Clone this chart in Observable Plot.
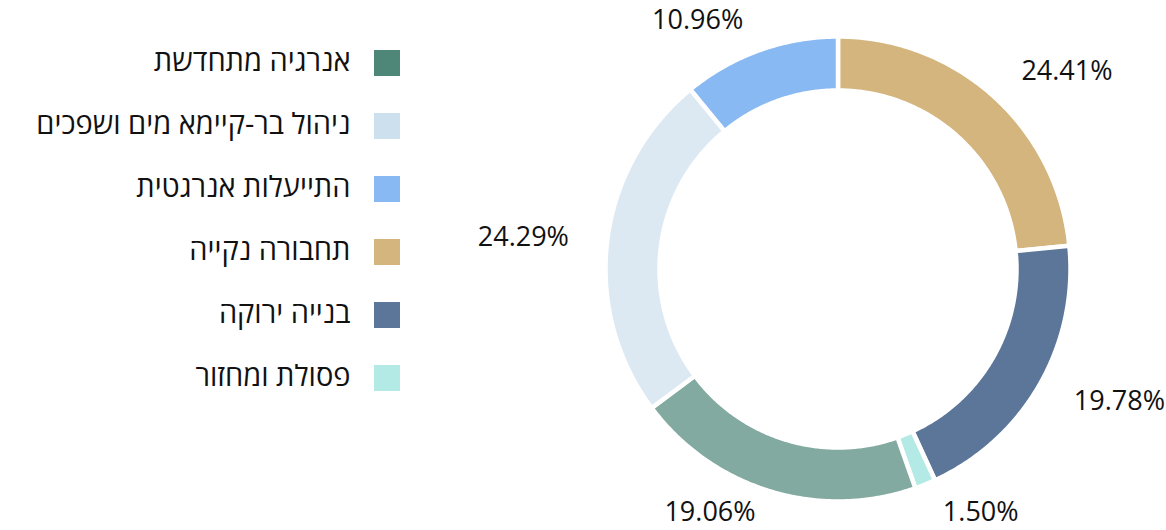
<!DOCTYPE html>
<html>
<head>
<meta charset="utf-8">
<script src="https://cdn.jsdelivr.net/npm/d3@7"></script>
<script src="https://cdn.jsdelivr.net/npm/@observablehq/plot@0.6"></script>
<style>
  html, body { margin: 0; padding: 0; background: #fff; }
  #chart svg { display: block; }
</style>
</head>
<body>
<div id="chart"></div>
<script>
// Data (clockwise from 12 o'clock)
const sliceNames = ["תחבורה נקייה", "בנייה ירוקה", "פסולת ומחזור", "אנרגיה מתחדשת", "ניהול בר-קיימא מים ושפכים", "התייעלות אנרגטית"];
// slice sizes as drawn in the picture (share of the ring)
const sliceValues = [23.4, 19.75, 1.45, 20.2, 24.25, 10.95];
// printed percentages
const sliceLabels = ["24.41%", "19.78%", "1.50%", "19.06%", "24.29%", "10.96%"];

// Legend order
const legendNames = ["אנרגיה מתחדשת", "ניהול בר-קיימא מים ושפכים", "התייעלות אנרגטית", "תחבורה נקייה", "בנייה ירוקה", "פסולת ומחזור"];

// Styles
const colorMap = {
  "אנרגיה מתחדשת": "#4e8678",
  "ניהול בר-קיימא מים ושפכים": "#cde0ee",
  "התייעלות אנרגטית": "#89b9f2",
  "תחבורה נקייה": "#d4b57d",
  "בנייה ירוקה": "#5c7699",
  "פסולת ומחזור": "#b3eae5"
};
const fadedSlices = new Set(["אנרגיה מתחדשת", "ניהול בר-קיימא מים ושפכים"]);

const W = 1166, H = 530;
const cx = 837.5, cy = 268.5, rOuter = 232.5, rInner = 178.5, rLabel = 266;
const font = "'Open Sans', 'DejaVu Sans', sans-serif";

const total = d3.sum(sliceValues);
let acc = 0;
const slices = sliceNames.map((name, i) => {
  const a0 = acc / total * 2 * Math.PI;
  acc += sliceValues[i];
  const a1 = acc / total * 2 * Math.PI;
  return {name, a0, a1, label: sliceLabels[i]};
});

const pts = [];
for (const s of slices) {
  const n = Math.max(4, Math.ceil((s.a1 - s.a0) / (Math.PI / 360)));
  const op = fadedSlices.has(s.name) ? 0.7 : 1;
  for (let k = 0; k <= n; k++) {
    const a = s.a0 + (s.a1 - s.a0) * k / n;
    pts.push({name: s.name, x: cx + rOuter * Math.sin(a), y: cy - rOuter * Math.cos(a), op});
  }
  for (let k = n; k >= 0; k--) {
    const a = s.a0 + (s.a1 - s.a0) * k / n;
    pts.push({name: s.name, x: cx + rInner * Math.sin(a), y: cy - rInner * Math.cos(a), op});
  }
}

const labels = slices.map(s => {
  const a = (s.a0 + s.a1) / 2;
  const right = Math.sin(a) >= 0;
  const y = Math.min(512, Math.max(20, cy - rLabel * Math.cos(a)));
  return {label: s.label, x: cx + rLabel * Math.sin(a) + (right ? 5 : -5), y, right};
});

const legend = legendNames.map((name, i) => ({name, i, yc: 63 + i * 63}));

const chart = Plot.plot({
  width: W, height: H,
  marginTop: 0, marginRight: 0, marginBottom: 0, marginLeft: 0,
  x: {domain: [0, W], range: [0, W], axis: null},
  y: {domain: [0, H], range: [0, H], axis: null},
  color: {domain: Object.keys(colorMap), range: Object.values(colorMap)},
  style: {fontFamily: font, background: "#fff"},
  marks: [
    Plot.line(pts, {x: "x", y: "y", z: "name", fill: "name", fillOpacity: "op", stroke: "white", strokeWidth: 4.5, curve: "linear-closed"}),
    Plot.text(labels.filter(d => d.right), {x: "x", y: "y", text: "label", textAnchor: "start", fontSize: 27, fill: "#111"}),
    Plot.text(labels.filter(d => !d.right), {x: "x", y: "y", text: "label", textAnchor: "end", fontSize: 27, fill: "#111"}),
    Plot.rect(legend, {x1: () => 374, x2: () => 400, y1: d => d.yc - 13, y2: d => d.yc + 13, fill: "name"}),
    Plot.text(legend, {x: () => 350, y: "yc", dy: -2, text: "name", textAnchor: "end", fontSize: 29, fill: "#111"})
  ]
});
document.getElementById("chart").appendChild(chart);
</script>
</body>
</html>
